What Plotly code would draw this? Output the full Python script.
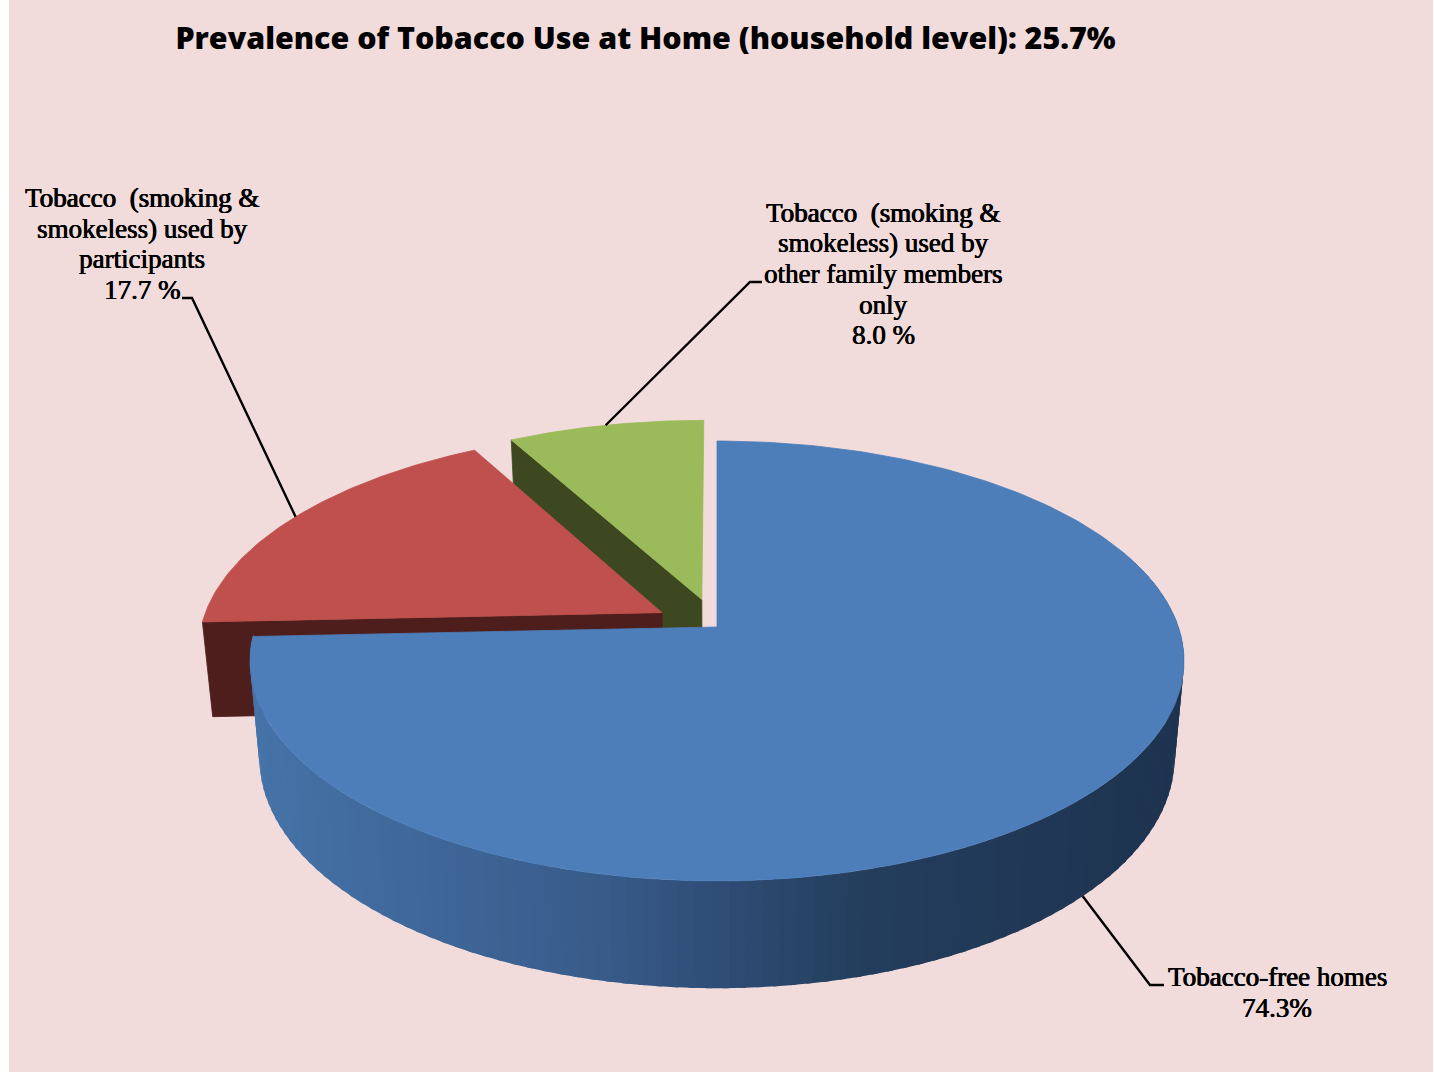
import numpy as np
import plotly.graph_objects as go

# ---- data ----
categories = ["Tobacco-free homes", "Tobacco used by participants", "Tobacco used by other family members only"]
values = [74.3, 17.7, 8.0]
value_labels = ["74.3%", "17.7 %", "8.0 %"]
label_lines = [
    ["Tobacco-free homes"],
    ["Tobacco\u00a0\u00a0(smoking &", "smokeless) used by", "participants"],
    ["Tobacco\u00a0\u00a0(smoking &", "smokeless) used by", "other family members", "only"],
]
title_text = "Prevalence of Tobacco Use at Home (household level): 25.7%"

# ---- style ----
BG = "#F2DCDB"
TOP = ["#4D7EBA", "#BF504D", "#9BBA59"]
CUT = [None, "#4E1E1C", "#3D4820"]
SERIF = "Liberation Serif"
explode = [0.0, 0.138, 0.135]
X0, Y0, R, H, P = 717.0, 627.0, 461.4, 214.7, 0.1545   # perspective camera
DEPTH, SHRINK = 95.0, 0.98
LINE_H = 30.7
label_pos = [(1277, 977), (142, 198), (883, 212.5)]
leader_mid = [[(1150, 985), (1164, 985)], [(192, 298), (182, 298)], [(750, 282), (762, 282)]]


def proj(X, Y, bottom=False):
    X, Y = np.asarray(X, float), np.asarray(Y, float)
    s = 1.0 / (1.0 - P * Y)
    if bottom:
        return X0 + R * X * s * SHRINK, Y0 + (H * Y * SHRINK + DEPTH) * s
    return X0 + R * X * s, Y0 + H * Y * s


def poly(fig, x, y, color, width=0.8):
    fig.add_trace(go.Scatter(
        x=np.round(x, 2), y=np.round(y, 2), mode="lines", fill="toself", fillcolor=color,
        line=dict(color=color, width=width), hoverinfo="skip", showlegend=False))


fracs = np.cumsum([0] + values) / sum(values) * 2 * np.pi
starts, ends = fracs[:-1], fracs[1:]
mids = (starts + ends) / 2
ax = [e * np.sin(m) for e, m in zip(explode, mids)]
ay = [-e * np.cos(m) for e, m in zip(explode, mids)]


def rim(i, t):
    return ax[i] + np.sin(t), ay[i] - np.cos(t)


fig = go.Figure()

# exploded slices: visible cut face, then top face
for i in (2, 1):
    ex, ey = rim(i, starts[i])
    tx0, ty0 = proj(ax[i], ay[i])
    tx1, ty1 = proj(ex, ey)
    bx0, by0 = proj(ax[i], ay[i], True)
    bx1, by1 = proj(ex, ey, True)
    poly(fig, [tx0, tx1, bx1, bx0, tx0], [ty0, ty1, by1, by0, ty0], CUT[i])
    t = np.linspace(starts[i], ends[i], 80)
    rx, ry = rim(i, t)
    px, py = proj(np.r_[ax[i], rx, ax[i]], np.r_[ay[i], ry, ay[i]])
    poly(fig, px, py, TOP[i])

# large slice: shaded outer wall as narrow overlapping strips, then top face
stops_x = [250, 600, 850, 1190]
stops_c = np.array([[70, 115, 168], [56, 91, 138], [36, 62, 94], [29, 51, 79]], float)
edges = np.linspace(np.radians(70), ends[0], 110)
for a, b in zip(edges[:-1], edges[1:]):
    t = np.array([a, b + 0.012])
    rx, ry = rim(0, t)
    tx, ty = proj(rx, ry)
    bx, by = proj(rx, ry, True)
    xm = (tx.mean() + bx.mean()) / 2
    c = [int(round(np.interp(xm, stops_x, stops_c[:, k]))) for k in range(3)]
    poly(fig, [tx[0], tx[1], bx[1], bx[0], tx[0]], [ty[0], ty[1], by[1], by[0], ty[0]], "rgb(%d,%d,%d)" % tuple(c), width=0)
t = np.linspace(starts[0], ends[0], 240)
rx, ry = rim(0, t)
px, py = proj(np.r_[ax[0], rx, ax[0]], np.r_[ay[0], ry, ay[0]])
poly(fig, px, py, TOP[0])

# leader lines from each slice's mid-angle rim
for i in range(3):
    rx, ry = rim(i, mids[i])
    sx, sy = proj(rx, ry, bottom=(i == 0))
    xs = [float(sx)] + [p[0] for p in leader_mid[i]]
    ys = [float(sy)] + [p[1] for p in leader_mid[i]]
    fig.add_trace(go.Scatter(x=xs, y=ys, mode="lines", line=dict(color="black", width=2.4),
                             hoverinfo="skip", showlegend=False))

# labels
for i in range(3):
    lines = label_lines[i] + [value_labels[i]]
    lx, ly = label_pos[i]
    for k, s in enumerate(lines):
        fig.add_annotation(x=lx, y=ly + k * LINE_H, text=s, showarrow=False, xanchor="center", yanchor="middle",
                           font=dict(family=SERIF, size=27, color="black",
                                     shadow="0.6px 0 0 #000, -0.3px 0 0 #000"))

fig.update_layout(
    width=1434, height=1072, margin=dict(l=0, r=0, t=0, b=0, pad=0), autosize=False,
    paper_bgcolor="white", plot_bgcolor="white", showlegend=False,
    title=dict(text=title_text, x=645.5 / 1434, xanchor="center", y=1 - 38 / 1072, yanchor="middle",
               font=dict(family="Open Sans", size=30.4, color="black", weight=800)),
    xaxis=dict(range=[0, 1434], visible=False, fixedrange=True),
    yaxis=dict(range=[1072, 0], visible=False, fixedrange=True),
    shapes=[dict(type="rect", xref="x", yref="y", x0=9, x1=1433, y0=0, y1=1072, fillcolor=BG, line_width=0, layer="below")],
)
fig.write_html("out.html", config={"displayModeBar": False}, post_script="document.body.style.margin='0';")
